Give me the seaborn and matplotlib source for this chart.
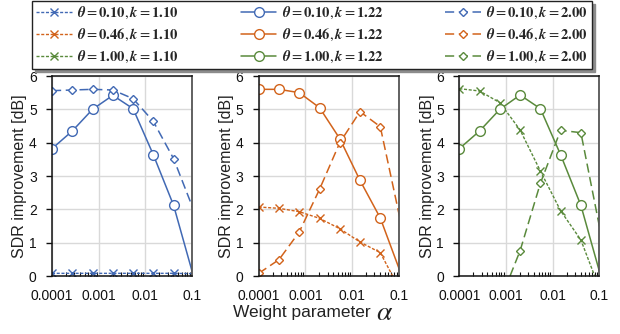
import matplotlib
matplotlib.use("Agg")
import matplotlib.pyplot as plt
from matplotlib.lines import Line2D
from matplotlib.font_manager import FontProperties
from matplotlib.ticker import NullFormatter
import seaborn as sns
import pandas as pd

# weight parameter alpha (x), the last point lies just past the axis edge
alpha = [0.0001, 0.000272, 0.000739, 0.00201, 0.00546, 0.0148, 0.0403, 0.1097]

# SDR improvement [dB], one list per (theta, k)
blue_k110 = [0.08, 0.08, 0.08, 0.08, 0.08, 0.08, 0.08, 0.07]
blue_k122 = [3.82, 4.35, 5.00, 5.42, 5.02, 3.64, 2.12, -0.05]
blue_k200 = [5.56, 5.58, 5.60, 5.58, 5.32, 4.64, 3.52, 1.96]

orange_k110 = [2.07, 2.03, 1.93, 1.73, 1.42, 1.02, 0.70, -0.45]
orange_k122 = [5.60, 5.60, 5.50, 5.05, 4.12, 2.87, 1.74, 0.10]
orange_k200 = [0.08, 0.49, 1.32, 2.60, 4.00, 4.93, 4.48, 1.64]

green_k110 = [5.62, 5.55, 5.20, 4.38, 3.15, 1.96, 1.08, -0.51]
green_k122 = [3.82, 4.35, 5.00, 5.43, 5.02, 3.64, 2.12, -0.05]
green_k200 = [-2.50, -1.60, -0.77, 0.76, 2.78, 4.37, 4.30, 1.22]

thetas = ['0.10', '0.46', '1.00']
ks = ['1.10', '1.22', '2.00']
colors = ['#4169B4', '#D2631B', '#5A8A3C']
panels = [
    [blue_k110, blue_k122, blue_k200],
    [orange_k110, orange_k122, orange_k200],
    [green_k110, green_k122, green_k200],
]

xticks = [0.0001, 0.001, 0.01, 0.1]
xticklabels = ['0.0001', '0.001', '0.01', '0.1']

# estilo de cada k
styles = {
    '1.10': dict(linestyle=(0, (2.2, 1.2)), marker='x', markersize=6, linewidth=1.0),
    '1.22': dict(linestyle='-', marker='o', markersize=7, linewidth=1.1),
    '2.00': dict(linestyle=(0, (6, 3)), marker='D', markersize=4.0, linewidth=1.1),
}

sns.set_theme(style='white')
plt.rcParams['font.family'] = ['Liberation Sans', 'DejaVu Sans']

fig = plt.figure(figsize=(6.2, 3.34), dpi=100)
lefts = [52, 258.7, 459.3]
handles = {}

for p, left in enumerate(lefts):
    ax = fig.add_axes([left / 620, 1 - 276 / 334, 140 / 620, 200 / 334])
    for kk, series in zip(ks, panels[p]):
        df = pd.DataFrame({'alpha': alpha, 'sdr': series})
        sns.lineplot(data=df, x='alpha', y='sdr', ax=ax, color=colors[p],
                     markerfacecolor='white', markeredgecolor=colors[p],
                     markeredgewidth=1.0, markevery=list(range(7)),
                     **styles[kk])
        handles[(p, kk)] = Line2D([], [], color=colors[p], markerfacecolor='white',
                                  markeredgecolor=colors[p], markeredgewidth=1.0,
                                  **styles[kk])
    ax.set_xscale('log')
    ax.set_xlim(0.0001, 0.1)
    ax.set_ylim(0, 6)
    ax.set_xticks(xticks)
    ax.set_xticklabels(xticklabels)
    ax.xaxis.set_minor_formatter(NullFormatter())
    ax.set_yticks(range(0, 7))
    ax.grid(True, which='major', color='#D9D9D9', linewidth=1.0)
    ax.set_axisbelow(True)
    ax.set_xlabel('')
    ax.set_ylabel('SDR improvement [dB]', fontsize=11.5, labelpad=1, color='#222222')
    ax.tick_params(axis='both', which='major', labelsize=10, colors='#111111',
                   length=4, width=1, pad=7)
    ax.tick_params(axis='x', which='major', direction='out', pad=5)
    ax.tick_params(axis='x', which='minor', direction='in', length=3, width=0.8,
                   bottom=True, color='#111111')
    ax.tick_params(axis='y', left=True)
    for s in ['left', 'bottom', 'top']:
        ax.spines[s].set_color('#111111')
        ax.spines[s].set_linewidth(1.1)
    ax.spines['right'].set_color('#555555')
    ax.spines['right'].set_linewidth(1.3)
    if ax.get_legend() is not None:
        ax.get_legend().remove()

# legenda em colunas por k
leg_handles = []
leg_labels = []
for kk in ks:
    for p, th in enumerate(thetas):
        leg_handles.append(handles[(p, kk)])
        leg_labels.append(r'$\boldsymbol{\theta} = \mathbf{%s}, \boldsymbol{k} = \mathbf{%s}$' % (th, kk))

fig.legend(leg_handles, leg_labels, ncol=3, loc='upper left',
           bbox_to_anchor=(32 / 620, 1 - 1 / 334), borderaxespad=0,
           prop=FontProperties(size=10.5, math_fontfamily='stix'),
           frameon=True, fancybox=False, edgecolor='#222222',
           shadow={'color': '0.55', 'alpha': 1.0, 'ox': 2, 'oy': -2},
           handlelength=2.45, handletextpad=0.35, columnspacing=4.25,
           labelspacing=0.4, borderpad=0.28, handleheight=0.8)

fig.text(233 / 620, 1 - 317 / 334, 'Weight parameter', fontsize=12.5,
         color='#222222', va='baseline', ha='left')
fig.text(376 / 620, 1 - 320 / 334, r'$\alpha$', fontsize=20, color='#222222',
         va='baseline', ha='left', math_fontfamily='stix')

fig.savefig('out.png', dpi=100)
